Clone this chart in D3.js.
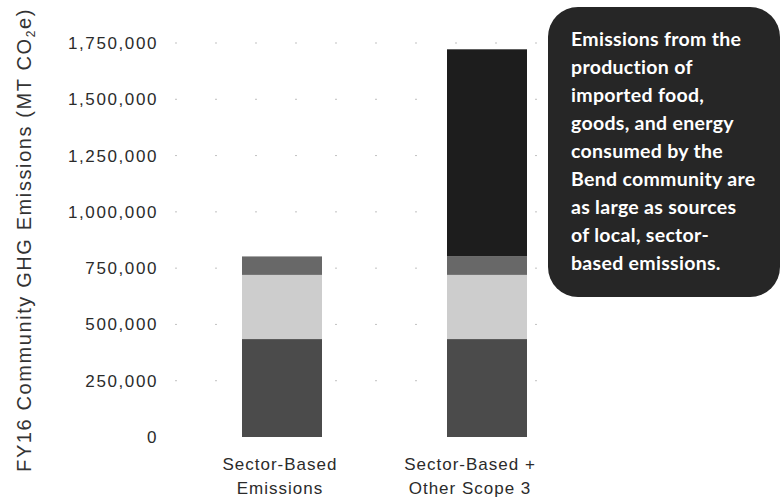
<!DOCTYPE html>
<html>
<head>
<meta charset="utf-8">
<script src="https://cdn.jsdelivr.net/npm/d3@7"></script>
<style>
  html, body { margin: 0; padding: 0; background: #fff; }
  svg { display: block; }
</style>
</head>
<body>
<svg id="chart" width="781" height="500"></svg>
<script>
// ---- data ----
const categories = ["Sector-Based Emissions", "Sector-Based + Other Scope 3"];
const categoryLines = [["Sector-Based", "Emissions"], ["Sector-Based +", "Other Scope 3"]];
const seriesNames = ["sectorA", "sectorB", "sectorC", "scope3"];
const sectorA = [435000, 435000];
const sectorB = [285000, 285000];
const sectorC = [82000, 82000];
const scope3 = [0, 920000];
const tickValues = [0, 250000, 500000, 750000, 1000000, 1250000, 1500000, 1750000];
const yTitle = "FY16 Community GHG Emissions (MT CO";
const calloutLines = [
  "Emissions from the",
  "production of",
  "imported food,",
  "goods, and energy",
  "consumed by the",
  "Bend community are",
  "as large as sources",
  "of local, sector-",
  "based emissions."
];

// ---- styles ----
const colors = { sectorA: "#4b4b4b", sectorB: "#cdcdcd", sectorC: "#686868", scope3: "#1d1d1d" };

const svg = d3.select("#chart");

const y = d3.scaleLinear().domain([0, 1750000]).range([437, 43]);
const x = d3.scaleBand().domain(categories).range([180.5, 588.5]).paddingInner(0.6098).paddingOuter(0.3);

// table for stacking
const table = categories.map((c, i) => ({
  cat: c, sectorA: sectorA[i], sectorB: sectorB[i], sectorC: sectorC[i], scope3: scope3[i]
}));
const stacked = d3.stack().keys(seriesNames)(table);

// gridlines (faint, dotted)
svg.append("g")
  .selectAll("line")
  .data(tickValues.filter(v => v > 0))
  .join("line")
  .attr("x1", 175).attr("x2", 548)
  .attr("y1", d => y(d)).attr("y2", d => y(d))
  .attr("stroke", "#9a9a9a")
  .attr("stroke-width", 1)
  .attr("stroke-dasharray", "2 38")
  .attr("opacity", 0.6);

// bars
svg.append("g")
  .selectAll("g")
  .data(stacked)
  .join("g")
  .attr("fill", d => colors[d.key])
  .selectAll("rect")
  .data(d => d.filter(s => s[1] - s[0] > 0))
  .join("rect")
  .attr("x", d => x(d.data.cat))
  .attr("width", x.bandwidth())
  .attr("y", d => y(d[1]))
  .attr("height", d => y(d[0]) - y(d[1]));

// y axis
const yAxis = d3.axisLeft(y)
  .tickValues(tickValues)
  .tickFormat(d3.format(","))
  .tickSize(0)
  .tickPadding(0);
const gy = svg.append("g").attr("transform", "translate(158,0)").call(yAxis);
gy.select(".domain").remove();
gy.selectAll("text")
  .attr("font-family", "'Liberation Sans', Arial, sans-serif")
  .attr("font-size", 17)
  .attr("letter-spacing", "1.6px")
  .attr("fill", "#2b2b2b");

// y title
const yt = svg.append("text")
  .attr("transform", "translate(31,240) rotate(-90)")
  .attr("text-anchor", "middle")
  .attr("font-family", "'Liberation Sans', Arial, sans-serif")
  .attr("font-size", 20)
  .attr("letter-spacing", "1.6px")
  .attr("fill", "#333");
yt.append("tspan").text(yTitle);
yt.append("tspan").attr("font-size", 12).attr("dy", 4).text("2");
yt.append("tspan").attr("dy", -4).text("e)");

// x labels
const labelOffsets = [-2, -17];
const xl = svg.append("g")
  .selectAll("text")
  .data(categories)
  .join("text")
  .attr("text-anchor", "middle")
  .attr("font-family", "'Liberation Sans', Arial, sans-serif")
  .attr("font-size", 17)
  .attr("letter-spacing", "1px")
  .attr("fill", "#2b2b2b")
  .attr("x", (d, i) => x(d) + x.bandwidth() / 2 + labelOffsets[i]);
xl.selectAll("tspan")
  .data((d, i) => categoryLines[i])
  .join("tspan")
  .attr("x", function () { return d3.select(this.parentNode).attr("x"); })
  .attr("y", (d, j) => 470 + j * 24)
  .text(d => d);

// callout
svg.append("rect")
  .attr("x", 548).attr("y", 7)
  .attr("width", 232).attr("height", 290)
  .attr("rx", 30).attr("ry", 30)
  .attr("fill", "#262626");
svg.append("g")
  .selectAll("text")
  .data(calloutLines)
  .join("text")
  .attr("x", 571)
  .attr("y", (d, i) => 46 + i * 28)
  .attr("font-family", "Lato, 'Open Sans', sans-serif")
  .attr("font-weight", "bold")
  .attr("font-size", 19.5)
  .attr("letter-spacing", "0.3px")
  .attr("fill", "#ffffff")
  .text(d => d);
</script>
</body>
</html>
